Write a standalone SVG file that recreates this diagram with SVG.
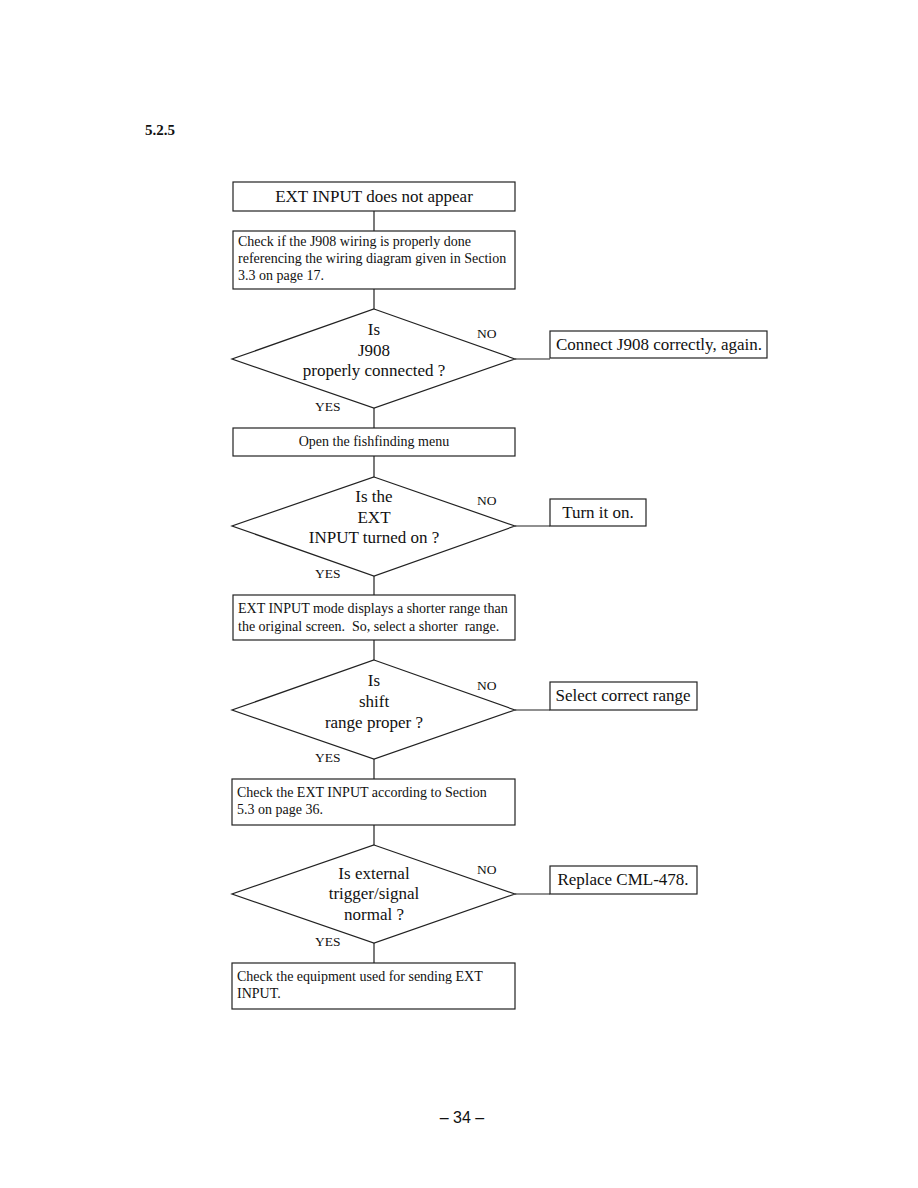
<svg xmlns="http://www.w3.org/2000/svg" width="918" height="1188" viewBox="0 0 918 1188">
<style>
.b{fill:#fff;stroke:#222;stroke-width:1.2}
.c{fill:none;stroke:#222;stroke-width:1.2}
text{font-family:"Liberation Serif","Times New Roman",serif;fill:#111;white-space:pre}
.l{font-size:17px;text-anchor:middle}
.s{font-size:14px}
.sm{font-size:14px;text-anchor:middle}
.y{font-size:13.5px}
</style>
<rect width="918" height="1188" fill="#fff"/>
<text x="145" y="135" style="font-size:15px;font-weight:bold">5.2.5</text>
<g id="connectors">
<path class="c" d="M374 211V231M374 289V309M374 408V428M374 456V477M374 576V595M374 640V660M374 759V779M374 825V845M374 943V963"/>
<path class="c" d="M515 359H550M515 526H550M515 710H550M515 894H550"/>
<text class="y" x="477" y="338">NO</text>
<text class="y" x="315" y="411">YES</text>
<text class="y" x="477" y="505">NO</text>
<text class="y" x="315" y="578">YES</text>
<text class="y" x="477" y="690">NO</text>
<text class="y" x="315" y="762">YES</text>
<text class="y" x="477" y="874">NO</text>
<text class="y" x="315" y="946">YES</text>
</g>
<g id="start">
<rect class="b" x="233" y="182" width="282" height="29"/>
<text class="l" x="374" y="202">EXT INPUT does not appear</text>
</g>
<g id="check-wiring">
<rect class="b" x="233" y="231" width="282" height="58"/>
<text class="s" x="238" y="246">Check if the J908 wiring is properly done</text>
<text class="s" x="238" y="263">referencing the wiring diagram given in Section</text>
<text class="s" x="238" y="280">3.3 on page 17.</text>
</g>
<g id="d1">
<polygon class="b" points="374,309 515,359 374,408 232,359"/>
<text class="l" x="374" y="335">Is</text>
<text class="l" x="374" y="356">J908</text>
<text class="l" x="374" y="376">properly connected ?</text>
</g>
<g id="connect-j908">
<rect class="b" x="550" y="331" width="217" height="27"/>
<text class="l" x="659" y="350">Connect J908 correctly, again.</text>
</g>
<g id="open-menu">
<rect class="b" x="233" y="428" width="282" height="28"/>
<text class="sm" x="374" y="446">Open the fishfinding menu</text>
</g>
<g id="d2">
<polygon class="b" points="374,477 515,526 374,576 232,526"/>
<text class="l" x="374" y="502">Is the</text>
<text class="l" x="374" y="523">EXT</text>
<text class="l" x="374" y="543">INPUT turned on ?</text>
</g>
<g id="turn-on">
<rect class="b" x="550" y="499" width="96" height="27"/>
<text class="l" x="598" y="518">Turn it on.</text>
</g>
<g id="ext-mode">
<rect class="b" x="233" y="595" width="282" height="45"/>
<text class="s" x="238" y="613">EXT INPUT mode displays a shorter range than</text>
<text class="s" x="238" y="631">the original screen.  So, select a shorter  range.</text>
</g>
<g id="d3">
<polygon class="b" points="374,660 515,710 374,759 232,710"/>
<text class="l" x="374" y="686">Is</text>
<text class="l" x="374" y="707">shift</text>
<text class="l" x="374" y="728">range proper ?</text>
</g>
<g id="select-range">
<rect class="b" x="550" y="682" width="147" height="28"/>
<text class="l" x="623" y="701">Select correct range</text>
</g>
<g id="check-ext">
<rect class="b" x="232" y="779" width="283" height="46"/>
<text class="s" x="237" y="797">Check the EXT INPUT according to Section</text>
<text class="s" x="237" y="814">5.3 on page 36.</text>
</g>
<g id="d4">
<polygon class="b" points="374,845 515,894 374,943 232,894"/>
<text class="l" x="374" y="879">Is external</text>
<text class="l" x="374" y="899">trigger/signal</text>
<text class="l" x="374" y="920">normal ?</text>
</g>
<g id="replace">
<rect class="b" x="550" y="866" width="147" height="28"/>
<text class="l" x="623" y="885">Replace CML-478.</text>
</g>
<g id="check-equipment">
<rect class="b" x="232" y="963" width="283" height="46"/>
<text class="s" x="237" y="981">Check the equipment used for sending EXT</text>
<text class="s" x="237" y="998">INPUT.</text>
</g>
<text x="462" y="1123" style="font-family:'Liberation Sans',Arial,sans-serif;font-size:16px;text-anchor:middle">– 34 –</text>
</svg>
